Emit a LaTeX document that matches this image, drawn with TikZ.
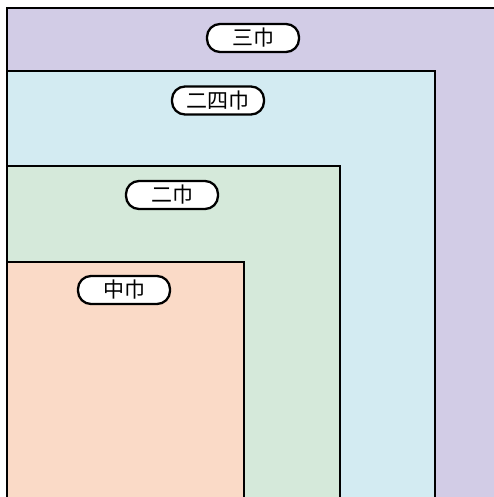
\documentclass[tikz,border=0pt]{standalone}
\usepackage{fontspec}
\newfontfamily\cjk{Noto Sans CJK SC}
\definecolor{cPurple}{RGB}{210,204,230}
\definecolor{cCyan}{RGB}{211,235,242}
\definecolor{cGreen}{RGB}{213,233,218}
\definecolor{cPeach}{RGB}{250,218,199}
\tikzset{
  zone/.style={draw=black, line width=1.8pt},
  pill/.style={draw=black, fill=white, line width=2.3pt, rounded corners=13pt,
    minimum width=92pt, minimum height=28pt, inner sep=0pt,
    font=\cjk\fontsize{21}{22}\selectfont}
}
\begin{document}
\begin{tikzpicture}[x=1pt,y=-1pt]
\useasboundingbox (0,0) rectangle (494,497);
\draw[zone, fill=cPurple] (7,8) rectangle (501,510);
\draw[zone, fill=cCyan] (7,71) rectangle (435,510);
\draw[zone, fill=cGreen] (7,166) rectangle (340,510);
\draw[zone, fill=cPeach] (7,262) rectangle (244,510);
\node[pill] (l3) at (253,38) {三巾};
\node[pill] (l24) at (218,100.5) {二四巾};
\node[pill] (l2) at (172,195) {二巾};
\node[pill] (lz) at (124,290) {中巾};
\end{tikzpicture}
\end{document}
